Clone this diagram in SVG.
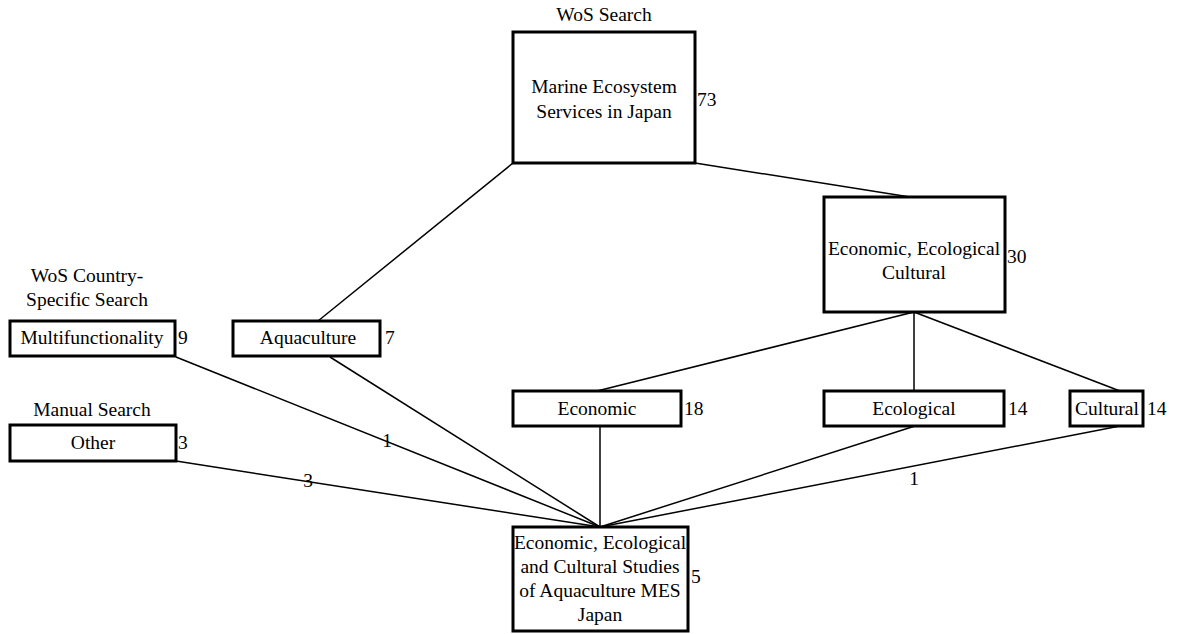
<svg xmlns="http://www.w3.org/2000/svg" width="1198" height="634" viewBox="0 0 1198 634" font-family="'Liberation Serif', 'DejaVu Serif', serif" font-size="19.5">
  <style>
    .box { fill: #fff; stroke: #000; stroke-width: 3; }
    .edge { stroke: #000; stroke-width: 1.5; fill: none; }
    .c { text-anchor: middle; }
  </style>
  <rect width="1198" height="634" fill="#fff"/>

  <!-- connectors -->
  <g id="connectors">
    <line class="edge" x1="513" y1="163" x2="318" y2="321"/>
    <line class="edge" x1="695" y1="163" x2="910" y2="197"/>
    <line class="edge" x1="914" y1="312" x2="597" y2="391"/>
    <line class="edge" x1="914" y1="312" x2="914" y2="391"/>
    <line class="edge" x1="914" y1="312" x2="1120" y2="391"/>
    <line class="edge" x1="176" y1="357" x2="600" y2="527"/>
    <line class="edge" x1="330" y1="357" x2="600" y2="527"/>
    <line class="edge" x1="176" y1="461" x2="600" y2="527"/>
    <line class="edge" x1="600" y1="426" x2="600" y2="527"/>
    <line class="edge" x1="915" y1="426" x2="600" y2="527"/>
    <line class="edge" x1="1120" y1="426" x2="600" y2="527"/>
    <text x="387" y="447" class="c">1</text>
    <text x="308" y="487" class="c">3</text>
    <text x="914" y="485" class="c">1</text>
  </g>

  <g id="marine">
    <text x="604" y="21" class="c">WoS Search</text>
    <rect class="box" x="513" y="32" width="182" height="131"/>
    <text x="604" y="93" class="c">Marine Ecosystem</text>
    <text x="604" y="118" class="c">Services in Japan</text>
    <text x="697" y="106">73</text>
  </g>

  <g id="eec">
    <rect class="box" x="824" y="197" width="181" height="115"/>
    <text x="914" y="255" class="c">Economic, Ecological</text>
    <text x="914" y="279" class="c">Cultural</text>
    <text x="1007" y="263">30</text>
  </g>

  <g id="multifunctionality">
    <text x="87" y="282" class="c">WoS Country-</text>
    <text x="87" y="306" class="c">Specific Search</text>
    <rect class="box" x="10" y="321" width="165" height="35"/>
    <text x="92" y="344" class="c">Multifunctionality</text>
    <text x="178" y="344">9</text>
  </g>

  <g id="aquaculture">
    <rect class="box" x="233" y="321" width="147" height="35"/>
    <text x="308" y="344" class="c">Aquaculture</text>
    <text x="385" y="344">7</text>
  </g>

  <g id="other">
    <text x="92" y="416" class="c">Manual Search</text>
    <rect class="box" x="10" y="425" width="166" height="36"/>
    <text x="93" y="449" class="c">Other</text>
    <text x="178" y="449">3</text>
  </g>

  <g id="economic">
    <rect class="box" x="513" y="391" width="168" height="35"/>
    <text x="597" y="415" class="c">Economic</text>
    <text x="684" y="415">18</text>
  </g>

  <g id="ecological">
    <rect class="box" x="824" y="391" width="180" height="35"/>
    <text x="914" y="415" class="c">Ecological</text>
    <text x="1008" y="415">14</text>
  </g>

  <g id="cultural">
    <rect class="box" x="1070" y="391" width="73" height="35"/>
    <text x="1107" y="415" class="c">Cultural</text>
    <text x="1147" y="415">14</text>
  </g>

  <g id="studies">
    <rect class="box" x="513" y="527" width="175" height="104"/>
    <text x="600" y="549" class="c">Economic, Ecological</text>
    <text x="600" y="573" class="c">and Cultural Studies</text>
    <text x="600" y="597" class="c">of Aquaculture MES</text>
    <text x="600" y="621" class="c">Japan</text>
    <text x="691" y="583">5</text>
  </g>
</svg>
